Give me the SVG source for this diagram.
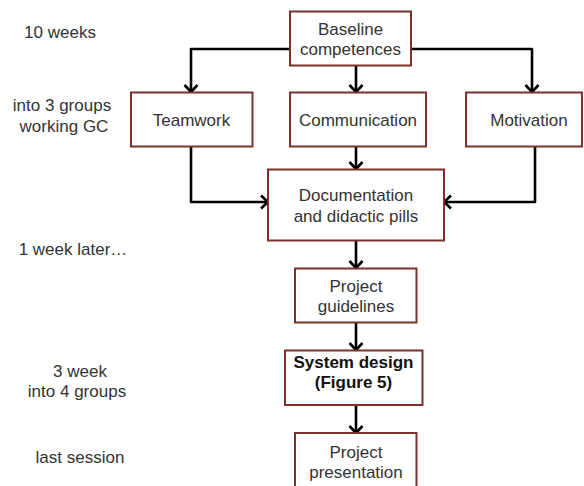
<svg xmlns="http://www.w3.org/2000/svg" width="584" height="486" viewBox="0 0 584 486">
<style>
  .box { fill: #ffffff; stroke: #7d302b; stroke-width: 2; }
  .t { font-family: "Liberation Sans", Arial, sans-serif; font-size: 17px; fill: #333333; text-anchor: middle; }
  .b { font-weight: bold; fill: #111111; }
  .c { fill: none; stroke: #000000; stroke-width: 2.6; stroke-linejoin: round; marker-end: url(#arr); }
</style>
<defs>
  <marker id="arr" markerUnits="userSpaceOnUse" markerWidth="20" markerHeight="20" viewBox="-10 -10 20 20" refX="-1" refY="0" orient="auto">
    <path d="M-8,-6.5 L-1,0 L-8,6.5" fill="none" stroke="#000000" stroke-width="2.6" stroke-linejoin="miter"/>
  </marker>
</defs>
<rect width="584" height="486" fill="#ffffff"/>

<g id="labels">
  <text class="t" x="60" y="38">10 weeks</text>
  <text class="t" x="62" y="111">into 3 groups</text>
  <text class="t" x="64" y="132">working GC</text>
  <text class="t" x="73" y="255">1 week later…</text>
  <text class="t" x="80" y="377">3 week</text>
  <text class="t" x="77" y="397">into 4 groups</text>
  <text class="t" x="80" y="463">last session</text>
</g>

<g id="connectors">
  <path class="c" d="M290,49 H191 V92"/>
  <path class="c" d="M411,49 H532 V92"/>
  <path class="c" d="M356,65 V92"/>
  <path class="c" d="M356,147 V169"/>
  <path class="c" d="M191,147 V202 H268"/>
  <path class="c" d="M535,147 V202 H444"/>
  <path class="c" d="M356,241 V268"/>
  <path class="c" d="M356,323 V350"/>
  <path class="c" d="M356,405 V433"/>
</g>

<g id="baseline">
  <rect class="box" x="290" y="11.5" width="121" height="54"/>
  <text class="t" x="350.5" y="35">Baseline</text>
  <text class="t" x="350.5" y="55">competences</text>
</g>
<g id="teamwork">
  <rect class="box" x="131" y="92.5" width="121.5" height="54"/>
  <text class="t" x="191.5" y="126">Teamwork</text>
</g>
<g id="communication">
  <rect class="box" x="290" y="92.5" width="136" height="54"/>
  <text class="t" x="358" y="126">Communication</text>
</g>
<g id="motivation">
  <rect class="box" x="466" y="92.5" width="116" height="54"/>
  <text class="t" x="529" y="126">Motivation</text>
</g>
<g id="documentation">
  <rect class="box" x="268" y="169.5" width="176" height="71"/>
  <text class="t" x="356" y="201">Documentation</text>
  <text class="t" x="356" y="221.5">and didactic pills</text>
</g>
<g id="guidelines">
  <rect class="box" x="295" y="268.5" width="121.5" height="54"/>
  <text class="t" x="356" y="291.5">Project</text>
  <text class="t" x="356" y="311.5">guidelines</text>
</g>
<g id="system">
  <rect class="box" x="285" y="350.5" width="137.5" height="54.5"/>
  <text class="t b" x="353.5" y="368">System design</text>
  <text class="t b" x="353.5" y="388">(Figure 5)</text>
</g>
<g id="presentation">
  <rect class="box" x="295" y="433" width="121.5" height="60"/>
  <text class="t" x="356" y="458">Project</text>
  <text class="t" x="356" y="478">presentation</text>
</g>
</svg>
